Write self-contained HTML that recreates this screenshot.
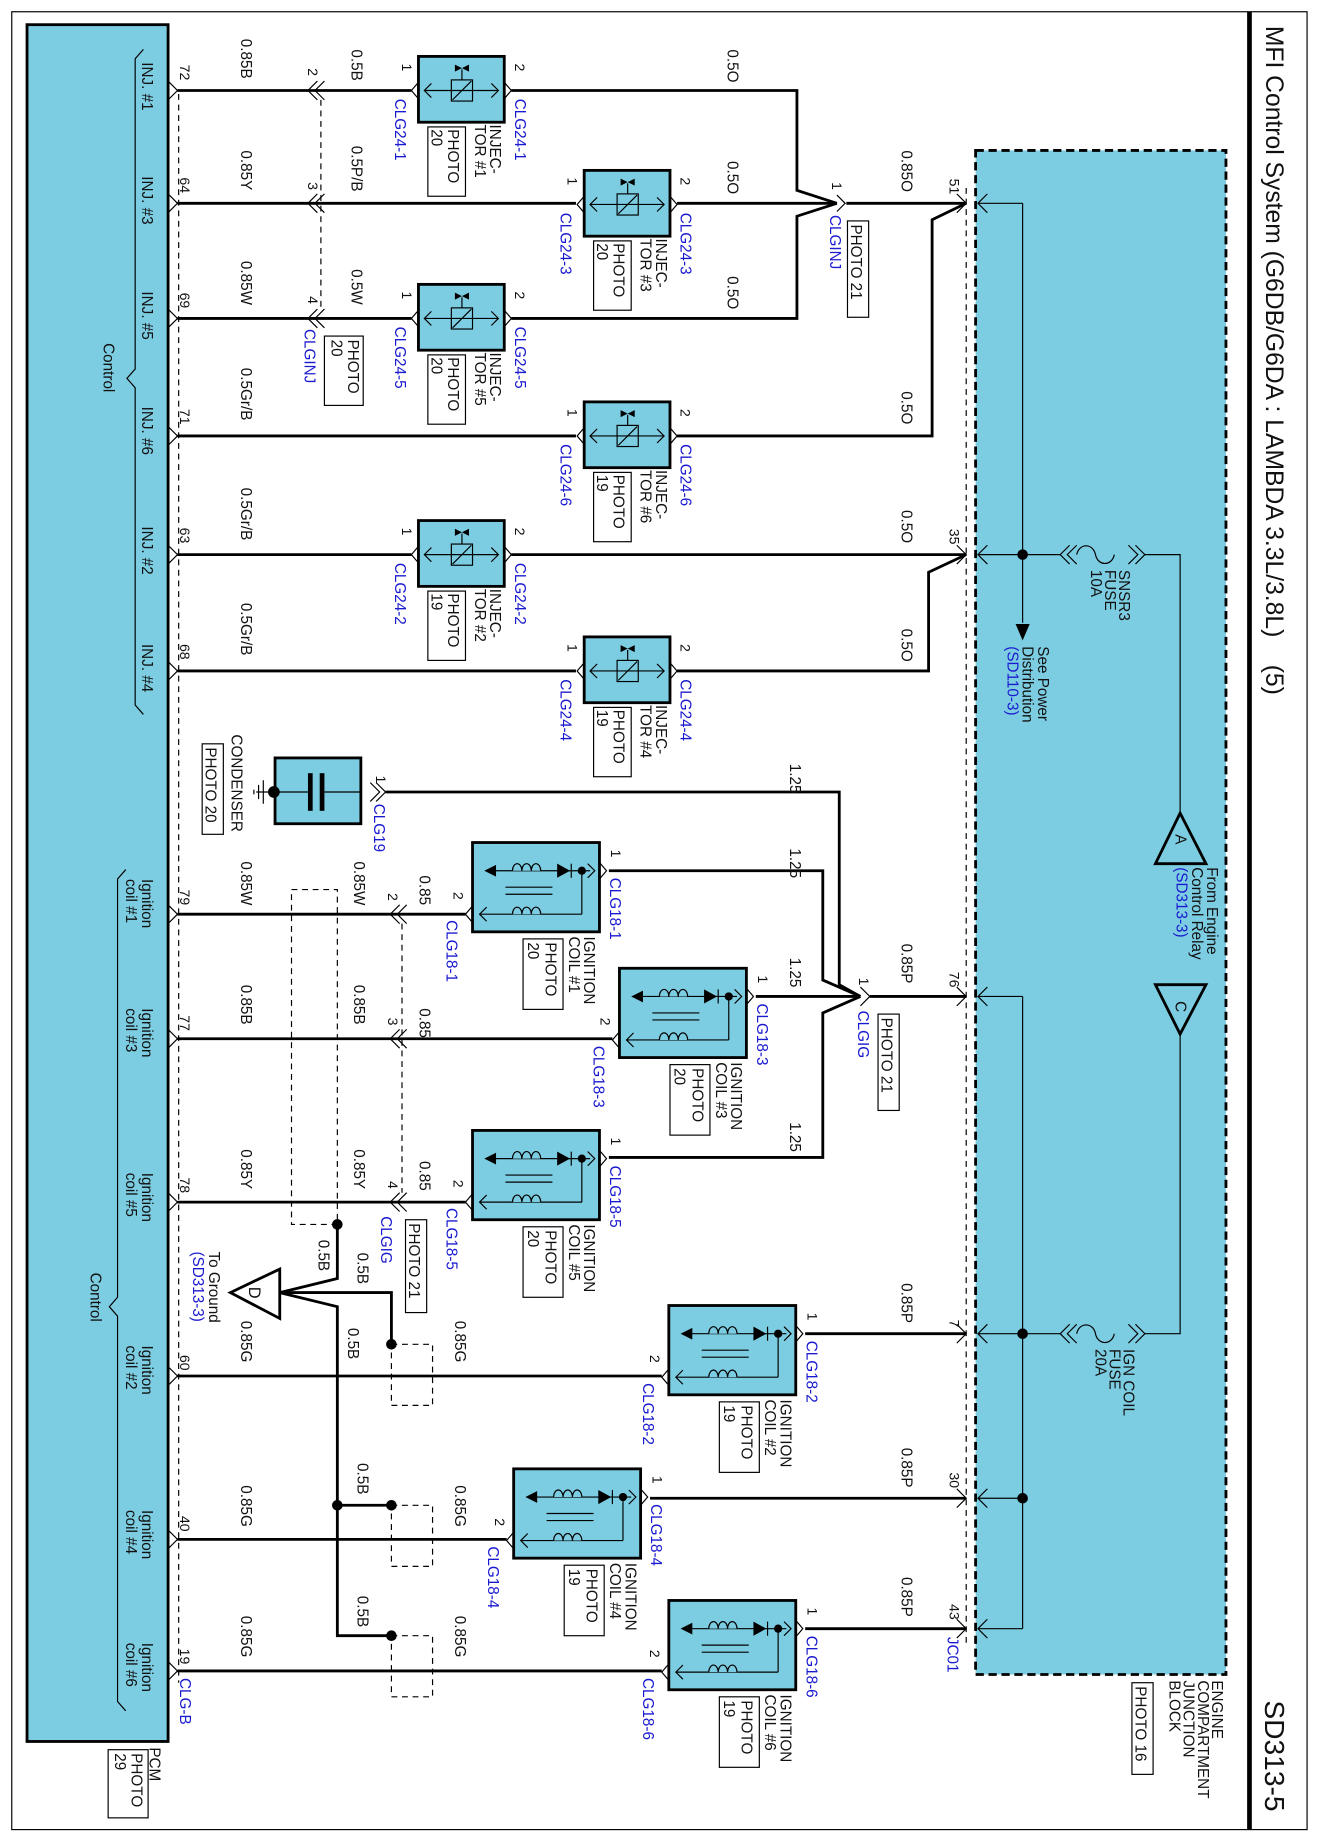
<!DOCTYPE html>
<html><head><meta charset="utf-8"><style>
html,body{margin:0;padding:0;background:#fff}
svg{display:block}
text{font-family:"Liberation Sans",sans-serif;font-size:13px;fill:#111}
.b{fill:#1a1ad0}
.w{stroke:#000;stroke-width:2.4;fill:none}
.t{stroke:#000;stroke-width:1;fill:none}
.d{stroke:#000;stroke-width:1;fill:none;stroke-dasharray:5 4}
.n{font-size:12px}
</style></head><body>
<svg width="1320" height="1839" viewBox="0 0 1123 1565" preserveAspectRatio="none" xmlns="http://www.w3.org/2000/svg">
<defs>
<g id="inj">
<rect x="0" y="0" width="73" height="56" fill="#7dcde2" stroke="#000" stroke-width="2.4"/>
<line x1="5" y1="29" x2="68" y2="29" class="t"/>
<polyline points="11,23 5,29 11,35" class="t"/><polyline points="62,23 68,29 62,35" class="t"/>
<rect x="28" y="20" width="18" height="18" class="t"/>
<line x1="29" y1="37" x2="45" y2="21" class="t"/>
<line x1="37" y1="20" x2="37" y2="11" class="t"/>
<polygon points="31,7 43,13 43,7 31,13" fill="#000"/>
<polyline points="0,22 -6,29 0,36" class="t"/><polyline points="73,22 79,29 73,36" class="t"/>
</g>
<g id="coil">
<rect x="0" y="0" width="108" height="76" fill="#7dcde2" stroke="#000" stroke-width="2.4"/>
<line x1="16" y1="24" x2="100" y2="24" class="t"/>
<polygon points="10,24 20,19 20,29" fill="#000"/>
<path d="M34,24 a4,6 0 0 1 8,0 a4,6 0 0 1 8,0 a4,6 0 0 1 8,0" fill="#7dcde2" stroke="#000"/>
<polygon points="72,18 72,30 83,24" fill="#000"/><line x1="84" y1="18" x2="84" y2="30" class="t"/>
<circle cx="93" cy="24" r="3.5" fill="#000"/>
<line x1="93" y1="24" x2="93" y2="61" class="t"/>
<line x1="6" y1="61" x2="93" y2="61" class="t"/>
<path d="M34,61 a4,6 0 0 1 8,0 a4,6 0 0 1 8,0 a4,6 0 0 1 8,0" fill="#7dcde2" stroke="#000"/>
<line x1="28" y1="38" x2="68" y2="38" class="t"/><line x1="28" y1="44" x2="68" y2="44" class="t"/>
<polyline points="12,55 6,61 12,67" class="t"/><polyline points="98,18 104,24 98,30" class="t"/>
<polyline points="0,54 -6,61 0,68" class="t"/><polyline points="108,17 114,24 108,31" class="t"/>
</g>
</defs>

<rect x="10" y="10" width="1102" height="1547" fill="none" stroke="#000" stroke-width="1"/>
<line x1="1063" y1="10" x2="1063" y2="1557" stroke="#000" stroke-width="4"/>
<text transform="translate(1077,22) rotate(90)" style="font-size:21px" xml:space="preserve">MFI Control System (G6DB/G6DA : LAMBDA 3.3L/3.8L)    (5)</text>
<text transform="translate(1076,1447) rotate(90)" style="font-size:24px">SD313-5</text>

<rect x="23" y="21" width="120" height="1461" fill="#7dcde2" stroke="#000" stroke-width="2.4"/>
<line x1="152" y1="80" x2="152" y2="1432" class="d"/>
<path d="M122,42 L115,50 L115,314 L108,322 L115,330 L115,600 L122,608" class="t"/>
<path d="M107,740 L100,748 L100,1104 L93,1112 L100,1120 L100,1448 L107,1456" class="t"/>
<text transform="translate(88,292) rotate(90)">Control</text>
<text transform="translate(77,1083) rotate(90)">Control</text>
<text transform="translate(127,1487) rotate(90)">PCM</text>
<rect x="92" y="1489" width="34" height="58" fill="none" stroke="#000"/>
<text transform="translate(112,1492) rotate(90)">PHOTO</text>
<text transform="translate(98,1492) rotate(90)">29</text>

<g>
<text transform="translate(121,53) rotate(90)">INJ. #1</text>
<text transform="translate(121,150) rotate(90)">INJ. #3</text>
<text transform="translate(121,248) rotate(90)">INJ. #5</text>
<text transform="translate(121,346) rotate(90)">INJ. #6</text>
<text transform="translate(121,448) rotate(90)">INJ. #2</text>
<text transform="translate(121,548) rotate(90)">INJ. #4</text>
<text transform="translate(121,748) rotate(90)">Ignition</text><text transform="translate(107,748) rotate(90)">coil #1</text>
<text transform="translate(121,858) rotate(90)">Ignition</text><text transform="translate(107,858) rotate(90)">coil #3</text>
<text transform="translate(121,998) rotate(90)">Ignition</text><text transform="translate(107,998) rotate(90)">coil #5</text>
<text transform="translate(121,1145) rotate(90)">Ignition</text><text transform="translate(107,1145) rotate(90)">coil #2</text>
<text transform="translate(121,1285) rotate(90)">Ignition</text><text transform="translate(107,1285) rotate(90)">coil #4</text>
<text transform="translate(121,1398) rotate(90)">Ignition</text><text transform="translate(107,1398) rotate(90)">coil #6</text>
</g>
<g class="n">
<text class="n" transform="translate(153,55) rotate(90)">72</text>
<text class="n" transform="translate(153,151) rotate(90)">64</text>
<text class="n" transform="translate(153,249) rotate(90)">69</text>
<text class="n" transform="translate(153,348) rotate(90)">71</text>
<text class="n" transform="translate(153,449) rotate(90)">63</text>
<text class="n" transform="translate(153,548) rotate(90)">68</text>
<text class="n" transform="translate(153,757) rotate(90)">79</text>
<text class="n" transform="translate(153,864) rotate(90)">77</text>
<text class="n" transform="translate(153,1002) rotate(90)">78</text>
<text class="n" transform="translate(153,1153) rotate(90)">60</text>
<text class="n" transform="translate(153,1290) rotate(90)">40</text>
<text class="n" transform="translate(153,1403) rotate(90)">19</text>
</g>
<text class="b" transform="translate(153,1428) rotate(90)">CLG-B</text>

<g class="t">
<polyline points="143,69 151,77 143,85"/><polyline points="143,165 151,173 143,181"/><polyline points="143,263 151,271 143,279"/>
<polyline points="143,363 151,371 143,379"/><polyline points="143,464 151,472 143,480"/><polyline points="143,563 151,571 143,579"/>
<polyline points="143,770 151,778 143,786"/><polyline points="143,876 151,884 143,892"/><polyline points="143,1015 151,1023 143,1031"/>
<polyline points="143,1163 151,1171 143,1179"/><polyline points="143,1302 151,1310 143,1318"/><polyline points="143,1414 151,1422 143,1430"/>
</g>

<g class="w">
<line x1="151" y1="77" x2="350" y2="77"/>
<line x1="151" y1="173" x2="490" y2="173"/>
<line x1="151" y1="271" x2="350" y2="271"/>
<line x1="151" y1="371" x2="490" y2="371"/>
<line x1="151" y1="472" x2="350" y2="472"/>
<line x1="151" y1="571" x2="490" y2="571"/>
<polyline points="435,77 678,77 678,162 712,173"/>
<polyline points="435,271 678,271 678,184 712,173"/>
<line x1="576" y1="173" x2="712" y2="173"/>
<line x1="720" y1="173" x2="822" y2="173"/>
<polyline points="576,371 793,371 793,187 822,173"/>
<line x1="435" y1="472" x2="822" y2="472"/>
<polyline points="576,571 790,571 790,487 822,472"/>
</g>
<polyline points="712,166 719,173 712,180" class="t"/>
<g class="t">
<polyline points="270,69 262,77 270,85"/><polyline points="276,69 268,77 276,85"/>
<polyline points="270,165 262,173 270,181"/><polyline points="276,165 268,173 276,181"/>
<polyline points="270,263 262,271 270,279"/><polyline points="276,263 268,271 276,279"/>
</g>
<line x1="273" y1="85" x2="273" y2="263" class="d"/>
<text class="n" transform="translate(262,58) rotate(90)">2</text>
<text class="n" transform="translate(262,155) rotate(90)">3</text>
<text class="n" transform="translate(262,252) rotate(90)">4</text>
<text class="b" transform="translate(259,280) rotate(90)">CLGINJ</text>
<rect x="276" y="286" width="33" height="59" fill="none" stroke="#000"/>
<text transform="translate(296,289) rotate(90)">PHOTO</text><text transform="translate(282,289) rotate(90)">20</text>

<g>
<text transform="translate(205,33) rotate(90)">0.85B</text>
<text transform="translate(205,128) rotate(90)">0.85Y</text>
<text transform="translate(205,222) rotate(90)">0.85W</text>
<text transform="translate(205,313) rotate(90)">0.5Gr/B</text>
<text transform="translate(205,415) rotate(90)">0.5Gr/B</text>
<text transform="translate(205,513) rotate(90)">0.5Gr/B</text>
<text transform="translate(299,42) rotate(90)">0.5B</text>
<text transform="translate(299,124) rotate(90)">0.5P/B</text>
<text transform="translate(299,229) rotate(90)">0.5W</text>
<text transform="translate(619,42) rotate(90)">0.5O</text>
<text transform="translate(619,137) rotate(90)">0.5O</text>
<text transform="translate(619,235) rotate(90)">0.5O</text>
<text transform="translate(767,128) rotate(90)">0.85O</text>
<text transform="translate(767,333) rotate(90)">0.5O</text>
<text transform="translate(767,434) rotate(90)">0.5O</text>
<text transform="translate(767,535) rotate(90)">0.5O</text>
</g>
<text class="n" transform="translate(708,155) rotate(90)">1</text>
<text class="b" transform="translate(706,183) rotate(90)">CLGINJ</text>
<rect x="721" y="188" width="18" height="82" fill="none" stroke="#000"/>
<text transform="translate(724,191) rotate(90)">PHOTO 21</text>

<g transform="translate(356,48)"><use href="#inj"/>
<text class="n" transform="translate(-14,6) rotate(90)">1</text><text class="n" transform="translate(82,6) rotate(90)">2</text>
<text class="b" transform="translate(-20,36) rotate(90)">CLG24-1</text><text class="b" transform="translate(82,36) rotate(90)">CLG24-1</text>
<text transform="translate(61,58) rotate(90)">INJEC-</text><text transform="translate(48,58) rotate(90)">TOR #1</text>
<rect x="8" y="60" width="32" height="59" fill="none" stroke="#000"/><text transform="translate(25,62) rotate(90)">PHOTO</text><text transform="translate(11,62) rotate(90)">20</text></g>
<g transform="translate(497,145)"><use href="#inj"/>
<text class="n" transform="translate(-14,6) rotate(90)">1</text><text class="n" transform="translate(82,6) rotate(90)">2</text>
<text class="b" transform="translate(-20,36) rotate(90)">CLG24-3</text><text class="b" transform="translate(82,36) rotate(90)">CLG24-3</text>
<text transform="translate(61,58) rotate(90)">INJEC-</text><text transform="translate(48,58) rotate(90)">TOR #3</text>
<rect x="8" y="60" width="32" height="59" fill="none" stroke="#000"/><text transform="translate(25,62) rotate(90)">PHOTO</text><text transform="translate(11,62) rotate(90)">20</text></g>
<g transform="translate(356,242)"><use href="#inj"/>
<text class="n" transform="translate(-14,6) rotate(90)">1</text><text class="n" transform="translate(82,6) rotate(90)">2</text>
<text class="b" transform="translate(-20,36) rotate(90)">CLG24-5</text><text class="b" transform="translate(82,36) rotate(90)">CLG24-5</text>
<text transform="translate(61,58) rotate(90)">INJEC-</text><text transform="translate(48,58) rotate(90)">TOR #5</text>
<rect x="8" y="60" width="32" height="59" fill="none" stroke="#000"/><text transform="translate(25,62) rotate(90)">PHOTO</text><text transform="translate(11,62) rotate(90)">20</text></g>
<g transform="translate(497,342)"><use href="#inj"/>
<text class="n" transform="translate(-14,6) rotate(90)">1</text><text class="n" transform="translate(82,6) rotate(90)">2</text>
<text class="b" transform="translate(-20,36) rotate(90)">CLG24-6</text><text class="b" transform="translate(82,36) rotate(90)">CLG24-6</text>
<text transform="translate(61,58) rotate(90)">INJEC-</text><text transform="translate(48,58) rotate(90)">TOR #6</text>
<rect x="8" y="60" width="32" height="59" fill="none" stroke="#000"/><text transform="translate(25,62) rotate(90)">PHOTO</text><text transform="translate(11,62) rotate(90)">19</text></g>
<g transform="translate(356,443)"><use href="#inj"/>
<text class="n" transform="translate(-14,6) rotate(90)">1</text><text class="n" transform="translate(82,6) rotate(90)">2</text>
<text class="b" transform="translate(-20,36) rotate(90)">CLG24-2</text><text class="b" transform="translate(82,36) rotate(90)">CLG24-2</text>
<text transform="translate(61,58) rotate(90)">INJEC-</text><text transform="translate(48,58) rotate(90)">TOR #2</text>
<rect x="8" y="60" width="32" height="59" fill="none" stroke="#000"/><text transform="translate(25,62) rotate(90)">PHOTO</text><text transform="translate(11,62) rotate(90)">19</text></g>
<g transform="translate(497,542)"><use href="#inj"/>
<text class="n" transform="translate(-14,6) rotate(90)">1</text><text class="n" transform="translate(82,6) rotate(90)">2</text>
<text class="b" transform="translate(-20,36) rotate(90)">CLG24-4</text><text class="b" transform="translate(82,36) rotate(90)">CLG24-4</text>
<text transform="translate(61,58) rotate(90)">INJEC-</text><text transform="translate(48,58) rotate(90)">TOR #4</text>
<rect x="8" y="60" width="32" height="59" fill="none" stroke="#000"/><text transform="translate(25,62) rotate(90)">PHOTO</text><text transform="translate(11,62) rotate(90)">19</text></g>

<rect x="234" y="645" width="73" height="56" fill="#7dcde2" stroke="#000" stroke-width="2.4"/>
<line x1="218" y1="674" x2="262" y2="674" class="t"/><line x1="276" y1="674" x2="307" y2="674" class="t"/>
<line x1="264" y1="658" x2="264" y2="690" stroke="#000" stroke-width="4"/><line x1="274" y1="658" x2="274" y2="690" stroke="#000" stroke-width="4"/>
<circle cx="233" cy="674" r="5" fill="#000"/>
<line x1="224" y1="664" x2="224" y2="684" class="t"/><line x1="220" y1="668" x2="220" y2="680" class="t"/><line x1="216" y1="672" x2="216" y2="676" class="t"/>
<text transform="translate(197,625) rotate(90)">CONDENSER</text>
<rect x="172" y="633" width="18" height="77" fill="none" stroke="#000"/>
<text transform="translate(175,636) rotate(90)">PHOTO 20</text>
<polyline points="315,666 323,674 315,682" class="t"/><polyline points="320,666 328,674 320,682" class="t"/>
<text class="n" transform="translate(320,660) rotate(90)">1</text>
<text class="b" transform="translate(318,684) rotate(90)">CLG19</text>

<g class="w">
<polyline points="328,674 714,674 714,838 732,848"/>
<polyline points="518,741 700,741 700,834 732,848"/>
<line x1="643" y1="848" x2="732" y2="848"/>
<polyline points="518,985 700,985 700,862 732,848"/>
<line x1="740" y1="848" x2="822" y2="848"/>
<line x1="685" y1="1135" x2="822" y2="1135"/>
<line x1="553" y1="1275" x2="822" y2="1275"/>
<line x1="685" y1="1386" x2="822" y2="1386"/>
<line x1="151" y1="778" x2="396" y2="778"/>
<line x1="151" y1="884" x2="521" y2="884"/>
<line x1="151" y1="1023" x2="396" y2="1023"/>
<line x1="151" y1="1171" x2="563" y2="1171"/>
<line x1="151" y1="1310" x2="431" y2="1310"/>
<line x1="151" y1="1422" x2="563" y2="1422"/>
</g>
<polyline points="732,840 740,848 732,856" class="t"/>
<text class="n" transform="translate(731,832) rotate(90)">1</text>
<text class="b" transform="translate(730,860) rotate(90)">CLGIG</text>
<rect x="747" y="863" width="18" height="82" fill="none" stroke="#000"/>
<text transform="translate(750,866) rotate(90)">PHOTO 21</text>

<g class="t">
<polyline points="340,770 332,778 340,786"/><polyline points="346,770 338,778 346,786"/>
<polyline points="340,876 332,884 340,892"/><polyline points="346,876 338,884 346,892"/>
<polyline points="340,1015 332,1023 340,1031"/><polyline points="346,1015 338,1023 346,1031"/>
</g>
<line x1="342" y1="786" x2="342" y2="1015" class="d"/>
<rect x="248" y="757" width="39" height="285" class="d"/>
<text class="n" transform="translate(330,760) rotate(90)">2</text>
<text class="n" transform="translate(330,866) rotate(90)">3</text>
<text class="n" transform="translate(330,1005) rotate(90)">4</text>
<text class="b" transform="translate(324,1035) rotate(90)">CLGIG</text>
<rect x="345" y="1038" width="18" height="79" fill="none" stroke="#000"/>
<text transform="translate(348,1041) rotate(90)">PHOTO 21</text>

<g>
<text transform="translate(205,733) rotate(90)">0.85W</text>
<text transform="translate(205,838) rotate(90)">0.85B</text>
<text transform="translate(205,978) rotate(90)">0.85Y</text>
<text transform="translate(205,1124) rotate(90)">0.85G</text>
<text transform="translate(205,1264) rotate(90)">0.85G</text>
<text transform="translate(205,1375) rotate(90)">0.85G</text>
<text transform="translate(301,733) rotate(90)">0.85W</text>
<text transform="translate(301,838) rotate(90)">0.85B</text>
<text transform="translate(301,978) rotate(90)">0.85Y</text>
<text transform="translate(357,745) rotate(90)">0.85</text>
<text transform="translate(357,858) rotate(90)">0.85</text>
<text transform="translate(357,988) rotate(90)">0.85</text>
<text transform="translate(387,1124) rotate(90)">0.85G</text>
<text transform="translate(387,1264) rotate(90)">0.85G</text>
<text transform="translate(387,1375) rotate(90)">0.85G</text>
<text transform="translate(672,650) rotate(90)">1.25</text>
<text transform="translate(672,722) rotate(90)">1.25</text>
<text transform="translate(672,815) rotate(90)">1.25</text>
<text transform="translate(672,955) rotate(90)">1.25</text>
<text transform="translate(767,803) rotate(90)">0.85P</text>
<text transform="translate(767,1092) rotate(90)">0.85P</text>
<text transform="translate(767,1232) rotate(90)">0.85P</text>
<text transform="translate(767,1342) rotate(90)">0.85P</text>
<text transform="translate(271,1055) rotate(90)">0.5B</text>
<text transform="translate(304,1066) rotate(90)">0.5B</text>
<text transform="translate(296,1130) rotate(90)">0.5B</text>
<text transform="translate(304,1245) rotate(90)">0.5B</text>
<text transform="translate(304,1358) rotate(90)">0.5B</text>
</g>

<g class="w">
<polyline points="287,1042 287,1088 238,1100"/>
<polyline points="238,1100 287,1112 287,1392 333,1392"/>
<polyline points="238,1100 333,1100 333,1144"/>
<line x1="287" y1="1281" x2="333" y2="1281"/>
</g>
<polygon points="196,1100 238,1080 238,1122" fill="#fff" stroke="#000" stroke-width="2.4"/>
<text transform="translate(212,1095) rotate(90)" style="font-size:14px">D</text>
<circle cx="287" cy="1042" r="4.5"/><circle cx="333" cy="1144" r="4.5"/><circle cx="287" cy="1281" r="4.5"/><circle cx="333" cy="1281" r="4.5"/><circle cx="333" cy="1392" r="4.5"/>
<rect x="333" y="1144" width="35" height="52" class="d"/>
<rect x="333" y="1281" width="35" height="52" class="d"/>
<rect x="333" y="1392" width="35" height="52" class="d"/>
<text transform="translate(178,1065) rotate(90)">To Ground</text>
<text class="b" transform="translate(164,1065) rotate(90)">(SD313-3)</text>

<g transform="translate(402,717)"><use href="#coil"/>
<text class="n" transform="translate(118,6) rotate(90)">1</text><text class="n" transform="translate(-16,42) rotate(90)">2</text>
<text class="b" transform="translate(117,30) rotate(90)">CLG18-1</text><text class="b" transform="translate(-22,66) rotate(90)">CLG18-1</text>
<text transform="translate(95,80) rotate(90)">IGNITION</text><text transform="translate(82,80) rotate(90)">COIL #1</text>
<rect x="43" y="82" width="34" height="60" fill="none" stroke="#000"/><text transform="translate(62,85) rotate(90)">PHOTO</text><text transform="translate(47,85) rotate(90)">20</text></g>
<g transform="translate(527,824)"><use href="#coil"/>
<text class="n" transform="translate(118,6) rotate(90)">1</text><text class="n" transform="translate(-16,42) rotate(90)">2</text>
<text class="b" transform="translate(117,30) rotate(90)">CLG18-3</text><text class="b" transform="translate(-22,66) rotate(90)">CLG18-3</text>
<text transform="translate(95,80) rotate(90)">IGNITION</text><text transform="translate(82,80) rotate(90)">COIL #3</text>
<rect x="43" y="82" width="34" height="60" fill="none" stroke="#000"/><text transform="translate(62,85) rotate(90)">PHOTO</text><text transform="translate(47,85) rotate(90)">20</text></g>
<g transform="translate(402,962)"><use href="#coil"/>
<text class="n" transform="translate(118,6) rotate(90)">1</text><text class="n" transform="translate(-16,42) rotate(90)">2</text>
<text class="b" transform="translate(117,30) rotate(90)">CLG18-5</text><text class="b" transform="translate(-22,66) rotate(90)">CLG18-5</text>
<text transform="translate(95,80) rotate(90)">IGNITION</text><text transform="translate(82,80) rotate(90)">COIL #5</text>
<rect x="43" y="82" width="34" height="60" fill="none" stroke="#000"/><text transform="translate(62,85) rotate(90)">PHOTO</text><text transform="translate(47,85) rotate(90)">20</text></g>
<g transform="translate(569,1111)"><use href="#coil"/>
<text class="n" transform="translate(118,6) rotate(90)">1</text><text class="n" transform="translate(-16,42) rotate(90)">2</text>
<text class="b" transform="translate(117,30) rotate(90)">CLG18-2</text><text class="b" transform="translate(-22,66) rotate(90)">CLG18-2</text>
<text transform="translate(95,80) rotate(90)">IGNITION</text><text transform="translate(82,80) rotate(90)">COIL #2</text>
<rect x="43" y="82" width="34" height="60" fill="none" stroke="#000"/><text transform="translate(62,85) rotate(90)">PHOTO</text><text transform="translate(47,85) rotate(90)">19</text></g>
<g transform="translate(437,1250)"><use href="#coil"/>
<text class="n" transform="translate(118,6) rotate(90)">1</text><text class="n" transform="translate(-16,42) rotate(90)">2</text>
<text class="b" transform="translate(117,30) rotate(90)">CLG18-4</text><text class="b" transform="translate(-22,66) rotate(90)">CLG18-4</text>
<text transform="translate(95,80) rotate(90)">IGNITION</text><text transform="translate(82,80) rotate(90)">COIL #4</text>
<rect x="43" y="82" width="34" height="60" fill="none" stroke="#000"/><text transform="translate(62,85) rotate(90)">PHOTO</text><text transform="translate(47,85) rotate(90)">19</text></g>
<g transform="translate(569,1362)"><use href="#coil"/>
<text class="n" transform="translate(118,6) rotate(90)">1</text><text class="n" transform="translate(-16,42) rotate(90)">2</text>
<text class="b" transform="translate(117,30) rotate(90)">CLG18-6</text><text class="b" transform="translate(-22,66) rotate(90)">CLG18-6</text>
<text transform="translate(95,80) rotate(90)">IGNITION</text><text transform="translate(82,80) rotate(90)">COIL #6</text>
<rect x="43" y="82" width="34" height="60" fill="none" stroke="#000"/><text transform="translate(62,85) rotate(90)">PHOTO</text><text transform="translate(47,85) rotate(90)">19</text></g>

<rect x="830" y="128" width="213" height="1297" fill="#7dcde2" stroke="#000" stroke-width="2.4" stroke-dasharray="7 4"/>
<line x1="822" y1="160" x2="822" y2="1402" class="d"/>
<g class="t">
<line x1="832" y1="173" x2="870" y2="173"/><line x1="832" y1="472" x2="870" y2="472"/>
<line x1="832" y1="848" x2="870" y2="848"/><line x1="832" y1="1135" x2="870" y2="1135"/>
<line x1="832" y1="1275" x2="870" y2="1275"/><line x1="832" y1="1386" x2="870" y2="1386"/>
<line x1="870" y1="173" x2="870" y2="530"/><line x1="870" y1="848" x2="870" y2="1386"/>
<polyline points="814,165 822,173 814,181"/><polyline points="840,165 832,173 840,181"/>
<polyline points="814,464 822,472 814,480"/><polyline points="840,464 832,472 840,480"/>
<polyline points="814,840 822,848 814,856"/><polyline points="840,840 832,848 840,856"/>
<polyline points="814,1127 822,1135 814,1143"/><polyline points="840,1127 832,1135 840,1143"/>
<polyline points="814,1267 822,1275 814,1283"/><polyline points="840,1267 832,1275 840,1283"/>
<polyline points="814,1378 822,1386 814,1394"/><polyline points="840,1378 832,1386 840,1394"/>
<line x1="870" y1="472" x2="902" y2="472"/>
<polyline points="910,464 902,472 910,480"/><polyline points="916,464 908,472 916,480"/>
<path d="M916,472 C918,462 930,462 932,472 C934,482 946,482 948,472"/>
<polyline points="960,464 968,472 960,480"/><polyline points="966,464 974,472 966,480"/>
<polyline points="974,472 1004,472 1004,692"/>
<line x1="870" y1="1135" x2="902" y2="1135"/>
<polyline points="910,1127 902,1135 910,1143"/><polyline points="916,1127 908,1135 916,1143"/>
<path d="M916,1135 C918,1125 930,1125 932,1135 C934,1145 946,1145 948,1135"/>
<polyline points="960,1127 968,1135 960,1143"/><polyline points="966,1127 974,1135 966,1143"/>
<polyline points="974,1135 1004,1135 1004,880"/>
</g>
<polygon points="870,545 864,531 876,531" fill="#000"/>
<circle cx="870" cy="472" r="4.5"/><circle cx="870" cy="1135" r="4.5"/><circle cx="870" cy="1275" r="4.5"/>
<polygon points="1004,692 983,735 1026,735" fill="none" stroke="#000" stroke-width="2.4"/>
<text transform="translate(1000,710) rotate(90)">A</text>
<polygon points="1004,880 983,838 1026,838" fill="none" stroke="#000" stroke-width="2.4"/>
<text transform="translate(1000,852) rotate(90)">C</text>
<text class="n" transform="translate(808,152) rotate(90)">51</text>
<text class="n" transform="translate(808,450) rotate(90)">35</text>
<text class="n" transform="translate(808,827) rotate(90)">76</text>
<text class="n" transform="translate(808,1123) rotate(90)">7</text>
<text class="n" transform="translate(808,1253) rotate(90)">30</text>
<text class="n" transform="translate(808,1365) rotate(90)">43</text>
<text class="b" transform="translate(806,1393) rotate(90)">JC01</text>
<text transform="translate(952,485) rotate(90)">SNSR3</text>
<text transform="translate(940,485) rotate(90)">FUSE</text>
<text transform="translate(928,485) rotate(90)">10A</text>
<text transform="translate(883,550) rotate(90)">See Power</text>
<text transform="translate(870,550) rotate(90)">Distribution</text>
<text class="b" transform="translate(857,550) rotate(90)">(SD110-3)</text>
<text transform="translate(1027,738) rotate(90)">From Engine</text>
<text transform="translate(1014,738) rotate(90)">Control Relay</text>
<text class="b" transform="translate(1001,738) rotate(90)">(SD313-3)</text>
<text transform="translate(956,1148) rotate(90)">IGN COIL</text>
<text transform="translate(944,1148) rotate(90)">FUSE</text>
<text transform="translate(932,1148) rotate(90)">20A</text>
<text transform="translate(1031,1430) rotate(90)">ENGINE</text>
<text transform="translate(1019,1430) rotate(90)">COMPARTMENT</text>
<text transform="translate(1007,1430) rotate(90)">JUNCTION</text>
<text transform="translate(995,1430) rotate(90)">BLOCK</text>
<rect x="963" y="1432" width="18" height="78" fill="none" stroke="#000"/>
<text transform="translate(966,1435) rotate(90)">PHOTO 16</text>
</svg>
</body></html>
